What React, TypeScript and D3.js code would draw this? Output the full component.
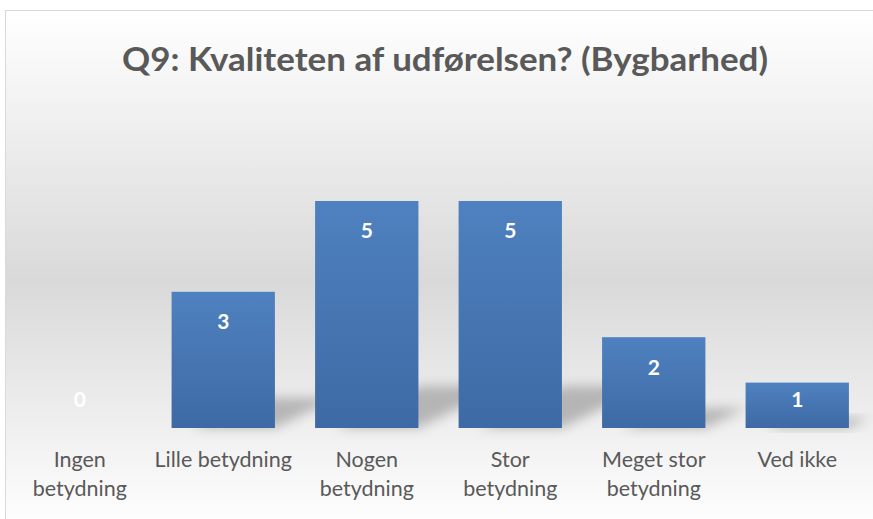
import { useEffect, useRef } from 'react';
import * as d3 from 'd3';

const categories = ['Ingen betydning', 'Lille betydning', 'Nogen betydning', 'Stor betydning', 'Meget stor betydning', 'Ved ikke'];
const categoryLines = [['Ingen', 'betydning'], ['Lille betydning'], ['Nogen', 'betydning'], ['Stor', 'betydning'], ['Meget stor', 'betydning'], ['Ved ikke']];
const values = [0, 3, 5, 5, 2, 1];
const title = 'Q9: Kvaliteten af udførelsen? (Bygbarhed)';

const WIDTH = 873;
const HEIGHT = 519;
const FONT = 'Lato, "Open Sans", sans-serif';

export default function App() {
  const svgRef = useRef<SVGSVGElement>(null);

  useEffect(() => {
    if (!svgRef.current) return;
    const svg = d3.select(svgRef.current);
    svg.selectAll('*').remove();

    const defs = svg.append('defs');

    // background gradient
    const bg = defs.append('linearGradient').attr('id', 'bg').attr('x1', 0).attr('y1', 0).attr('x2', 0).attr('y2', 1);
    bg.append('stop').attr('offset', '0%').attr('stop-color', '#ffffff');
    bg.append('stop').attr('offset', '52%').attr('stop-color', '#d9d9d9');
    bg.append('stop').attr('offset', '100%').attr('stop-color', '#ffffff');

    const barGrad = defs.append('linearGradient').attr('id', 'barGrad').attr('x1', 0).attr('y1', 0).attr('x2', 0).attr('y2', 1);
    barGrad.append('stop').attr('offset', '0%').attr('stop-color', '#4f81c0');
    barGrad.append('stop').attr('offset', '100%').attr('stop-color', '#3d6aa4');

    defs.append('filter').attr('id', 'blur').attr('x', '-50%').attr('y', '-50%').attr('width', '200%').attr('height', '200%')
      .append('feGaussianBlur').attr('stdDeviation', 6);

    // frame
    svg.append('rect')
      .attr('x', 5.5).attr('y', 10.5)
      .attr('width', WIDTH).attr('height', HEIGHT)
      .attr('fill', 'url(#bg)')
      .attr('stroke', '#d9d9d9').attr('stroke-width', 1);

    const margin = { left: 8, right: 4 };
    const baseline = 428;
    const x = d3.scaleBand<string>()
      .domain(categories)
      .range([margin.left, WIDTH - margin.right])
      .paddingInner(0.28)
      .paddingOuter(0.14);
    const y = d3.scaleLinear().domain([0, 5]).range([baseline, 201]);

    const data = categories.map((c, i) => ({ c, v: values[i], lines: categoryLines[i] }));

    // shadows
    svg.append('g').attr('opacity', 0.5)
      .selectAll('path')
      .data(data.filter(d => d.v > 0))
      .enter()
      .append('path')
      .attr('filter', 'url(#blur)')
      .attr('fill', '#7f7f7f')
      .attr('d', d => {
        const x0 = (x(d.c) || 0);
        const x1 = x0 + x.bandwidth();
        const h = baseline - y(d.v);
        const lift = Math.min(h * 0.22, 42);
        const shift = Math.min(h * 0.45, 85);
        return `M${x0 + 20},${baseline} L${x1},${baseline} L${x1 + shift},${baseline - lift} L${x0 + 20 + shift},${baseline - lift} Z`;
      });

    // bars
    svg.append('g')
      .selectAll('rect')
      .data(data)
      .enter()
      .append('rect')
      .attr('x', d => x(d.c) || 0)
      .attr('y', d => y(d.v))
      .attr('width', x.bandwidth())
      .attr('height', d => baseline - y(d.v))
      .attr('fill', 'url(#barGrad)');

    // value labels
    svg.append('g')
      .selectAll('text')
      .data(data)
      .enter()
      .append('text')
      .attr('x', d => (x(d.c) || 0) + x.bandwidth() / 2)
      .attr('y', d => Math.min(y(d.v) + 30, baseline - 28))
      .attr('dy', '0.35em')
      .attr('text-anchor', 'middle')
      .attr('fill', '#ffffff')
      .attr('font-family', FONT)
      .attr('font-weight', 700)
      .attr('font-size', 21)
      .text(d => d.v);

    // category labels
    const cat = svg.append('g')
      .selectAll('text')
      .data(data)
      .enter()
      .append('text')
      .attr('text-anchor', 'middle')
      .attr('fill', '#595959')
      .attr('font-family', FONT)
      .attr('font-size', 21.5);
    cat.selectAll('tspan')
      .data(d => d.lines.map(l => ({ l, cx: (x(d.c) || 0) + x.bandwidth() / 2 })))
      .enter()
      .append('tspan')
      .attr('x', t => t.cx)
      .attr('y', (_t, i) => 467 + i * 29)
      .text(t => t.l);

    // title
    svg.append('text')
      .attr('x', 445)
      .attr('y', 71)
      .attr('text-anchor', 'middle')
      .attr('fill', '#595959')
      .attr('font-family', FONT)
      .attr('font-weight', 700)
      .attr('font-size', 33)
      .attr('textLength', 646)
      .attr('lengthAdjust', 'spacingAndGlyphs')
      .text(title);
  }, []);

  return (
    <svg
      ref={svgRef}
      width={WIDTH}
      height={HEIGHT}
      style={{ position: 'absolute', left: 0, top: 0, display: 'block' }}
    />
  );
}
